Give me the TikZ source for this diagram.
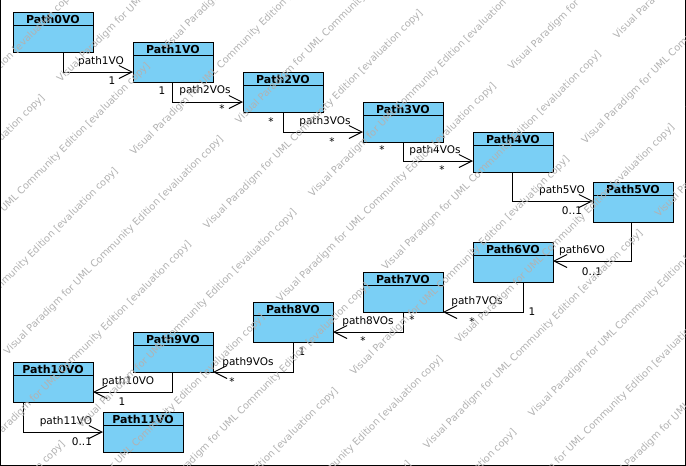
\documentclass[tikz,border=0pt]{standalone}
\usepackage{fontspec}
\setmainfont{DejaVu Sans}
\usetikzlibrary{arrows.meta,calc}
\definecolor{vpblue}{RGB}{122,207,245}
\definecolor{wmgray}{RGB}{178,178,178}
\newcommand{\umlclass}[4]{%
  \node[cbox] (#1) at (#2,#3) {};
  \draw[line width=1pt] ($(#1.north west)+(0,13)$) -- ($(#1.north east)+(0,13)$);
  \node[ctitle] (#1t) at ($(#1.north)+(0,7)$) {#4};
}
\begin{document}
\begin{tikzpicture}[x=1pt,y=-1pt,
  cbox/.style={draw=black,fill=vpblue,line width=1pt,minimum width=80pt,minimum height=40pt,inner sep=0pt,outer sep=0pt,anchor=north west},
  ctitle/.style={font=\fontsize{11}{11}\selectfont\bfseries,inner sep=0pt},
  assoc/.style={draw=black,line width=1pt,-{Straight Barb[length=13pt,width=13pt]}},
  lbl/.style={font=\fontsize{10.5}{10.5}\selectfont,inner sep=0pt},
  wm/.style={font=\fontsize{9.8}{9.8}\selectfont,text=wmgray,anchor=base west,rotate=45,inner sep=0pt}]
\useasboundingbox (0,0) rectangle (686,466);
\fill[white] (0,0) rectangle (686,466);

% classes
\umlclass{p0}{13}{12}{Path0VO}
\umlclass{p1}{133}{42}{Path1VO}
\umlclass{p2}{243}{72}{Path2VO}
\umlclass{p3}{363}{102}{Path3VO}
\umlclass{p4}{473}{132}{Path4VO}
\umlclass{p5}{593}{182}{Path5VO}
\umlclass{p6}{473}{242}{Path6VO}
\umlclass{p7}{363}{272}{Path7VO}
\umlclass{p8}{253}{302}{Path8VO}
\umlclass{p9}{133}{332}{Path9VO}
\umlclass{p10}{13}{362}{Path10VO}
\umlclass{p11}{103}{412}{Path11VO}

% associations
\draw[assoc] ($(p0.south west)+(50,0)$) |- ($(p1.north west)+(0,30)$);
\draw[assoc] ($(p1.south west)+(39,0)$) |- ($(p2.north west)+(0,30)$);
\draw[assoc] ($(p2.south west)+(40,0)$) |- ($(p3.north west)+(0,30)$);
\draw[assoc] ($(p3.south west)+(40,0)$) |- ($(p4.north west)+(0,29)$);
\draw[assoc] ($(p4.south west)+(39,0)$) |- ($(p5.north west)+(0,19)$);
\draw[assoc] ($(p5.south west)+(38,0)$) |- ($(p6.north east)+(0,19)$);
\draw[assoc] ($(p6.south west)+(50,0)$) |- (p7.south east);
\draw[assoc] ($(p7.south west)+(40,0)$) |- ($(p8.north east)+(0,30)$);
\draw[assoc] ($(p8.south west)+(40,0)$) |- (p9.south east);
\draw[assoc] ($(p9.south west)+(39,0)$) |- ($(p10.north east)+(0,30)$);
\draw[assoc] ($(p10.south west)+(10,0)$) |- ($(p11.north west)+(0,20)$);

% labels
\node[lbl] (l1) at (101,62) {path1VO};
\node[lbl] (m1b) at (112,81) {1};
\node[lbl] (l2) at (205,91) {path2VOs};
\node[lbl] (m2a) at (162,91) {1};
\node[lbl] (m2b) at (222,109) {*};
\node[lbl] (l3) at (325,122) {path3VOs};
\node[lbl] (m3a) at (271,122) {*};
\node[lbl] (m3b) at (332,142) {*};
\node[lbl] (l4) at (435,151) {path4VOs};
\node[lbl] (m4a) at (382,150) {*};
\node[lbl] (m4b) at (442,170) {*};
\node[lbl] (l5) at (562,191) {path5VO};
\node[lbl] (m5b) at (572,211) {0..1};
\node[lbl] (l6) at (582,251) {path6VO};
\node[lbl] (m6b) at (592,272) {0..1};
\node[lbl] (l7) at (477,302) {path7VOs};
\node[lbl] (m7a) at (532,312) {1};
\node[lbl] (m7b) at (472,322) {*};
\node[lbl] (l8) at (368,322) {path8VOs};
\node[lbl] (m8a) at (412,320) {*};
\node[lbl] (m8b) at (363,341) {*};
\node[lbl] (l9) at (248,363) {path9VOs};
\node[lbl] (m9a) at (302,352) {1};
\node[lbl] (m9b) at (232,382) {*};
\node[lbl] (l10) at (128,382) {path10VO};
\node[lbl] (m10b) at (122,402) {1};
\node[lbl] (l11) at (66,422) {path11VO};
\node[lbl] (m11b) at (82,442) {0..1};

% frame
\draw[line width=1pt] (0.5,0) -- (0.5,465.5) -- (685.5,465.5) -- (685.5,0);

% watermark
\begin{scope}
\clip (1,0) rectangle (685,465);
\foreach \n in {-4,...,12}{
  \pgfmathsetmacro{\cc}{290+73.3*\n}
  \pgfmathsetmacro{\uo}{ifthenelse(mod(abs(\n),2)==1,115,-22)}
  \foreach \k in {-3,...,3}{
    \pgfmathsetmacro{\uu}{\uo+463*\k}
    \node[wm] (w\n\k) at ({(\cc+\uu)/2},{(\cc-\uu)/2}) {Visual Paradigm for UML Community Edition [evaluation copy]};
  }
}
\end{scope}
\end{tikzpicture}
\end{document}
